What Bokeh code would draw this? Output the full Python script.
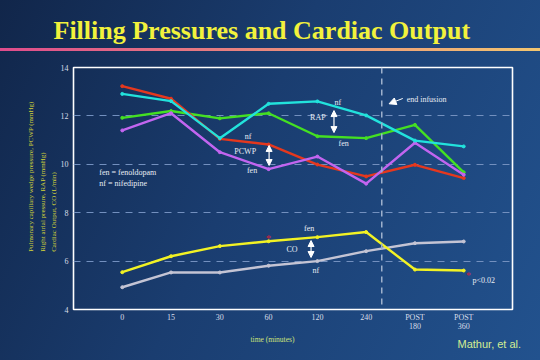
import math
from bokeh.plotting import figure
from bokeh.layouts import column, row
from bokeh.models import Range1d, FixedTicker, Label, Span, Arrow, NormalHead
from bokeh.embed import file_html
from bokeh.resources import INLINE
from bokeh.core.properties import value

# ---------------- data ----------------
categories = ["0", "15", "30", "60", "120", "240", "POST\n180", "POST\n360"]
x_pos = list(range(len(categories)))
pcwp_nf = [13.23, 12.71, 11.05, 10.82, 9.99, 9.50, 9.98, 9.43]     # red
pcwp_fen = [11.40, 12.11, 10.50, 9.80, 10.32, 9.20, 10.89, 9.57]   # purple
rap_nf = [12.91, 12.61, 11.08, 12.50, 12.60, 12.02, 10.98, 10.74]  # cyan
rap_fen = [11.92, 12.20, 11.90, 12.11, 11.16, 11.08, 11.63, 9.67]  # green
co_fen = [5.54, 6.20, 6.62, 6.82, 6.99, 7.20, 5.65, 5.61]          # yellow
co_nf = [4.92, 5.53, 5.53, 5.81, 6.00, 6.41, 6.74, 6.81]           # gray
y_ticks = [4, 6, 8, 10, 12, 14]
sig_index = [3]           # p<0.02 point on CO fen
END_INFUSION_X = 5.32

title_text = "Filling Pressures and Cardiac Output"
ylines = ["Pulmonary capillary wedge pressure, PCWP (mmHg)",
          "Right atrial pressure, RAP (mmHg)",
          "Cardiac Output, CO (L/min)"]
xlabel_text = "time (minutes)"
credit_text = "Mathur, et al."

SERIF = "Liberation Serif"

# ---------------- layout sizes ----------------
W, H = 540, 360
TOP_H = 57          # title strip
LEFT_W = 57         # y-label strip
BOT_H = 26          # bottom strip
MAIN_W = W - LEFT_W
MAIN_H = H - TOP_H - BOT_H


def blank(w, h):
    f = figure(width=w, height=h, x_range=Range1d(0, w), y_range=Range1d(0, h),
               output_backend="svg", toolbar_location=None, min_border=0,
               x_axis_type=None, y_axis_type=None)
    f.outline_line_color = None
    f.background_fill_color = None
    f.border_fill_color = None
    return f


# ---------------- main chart ----------------
p = figure(width=MAIN_W, height=MAIN_H, x_range=Range1d(-1, 8), y_range=Range1d(4, 14),
           output_backend="svg", toolbar_location=None,
           min_border_left=15, min_border_right=28, min_border_top=10, min_border_bottom=25)
p.border_fill_color = None
p.background_fill_color = None
p.outline_line_color = "white"
p.outline_line_width = 1.6

p.xaxis.ticker = FixedTicker(ticks=x_pos)
p.xaxis.major_label_overrides = {i: c for i, c in zip(x_pos, categories)}
p.yaxis.ticker = FixedTicker(ticks=y_ticks)
for ax in (p.xaxis, p.yaxis):
    ax.axis_line_color = None
    ax.major_tick_line_color = None
    ax.minor_tick_line_color = None
    ax.major_tick_out = 0
    ax.minor_tick_out = 0
    ax.axis_label_standoff = 0
    ax.major_label_text_color = "#d8dde8"
    ax.major_label_text_font = SERIF
    ax.major_label_text_font_size = "8px"
p.xaxis.major_label_text_line_height = 1.1
p.xaxis.major_label_standoff = 3
p.yaxis.major_label_standoff = 5

p.xgrid.grid_line_color = None
p.ygrid.grid_line_color = "#7390bf"
p.ygrid.grid_line_dash = "7 6"
p.ygrid.grid_line_width = 1

p.add_layout(Span(location=END_INFUSION_X, dimension="height", line_color="#9db0cc",
                  line_dash="6 5", line_width=1.5))

series = [
    (rap_fen, "#44e022"),
    (pcwp_nf, "#e5381e"),
    (pcwp_fen, "#c265f0"),
    (rap_nf, "#22e2dc"),
    (co_nf, "#c4c4d4"),
    (co_fen, "#f2f224"),
]
for ys, col in series:
    p.line(x_pos, ys, line_color=col, line_width=2.4)
    p.scatter(x_pos, ys, size=3, color=col)

p.text([x_pos[i] for i in sig_index], [co_fen[i] + 0.12 for i in sig_index], text=["*"] * len(sig_index),
       text_color="#d02040", text_font=value(SERIF), text_font_size="11px",
       text_align="center", text_baseline="middle")


def lab(fig, x, y, t, size="8px", color="#e8ecf4", align="left", baseline="middle", font=SERIF,
        angle=0.0, style="normal"):
    fig.add_layout(Label(x=x, y=y, text=t, text_font=font, text_font_size=size, text_color=color,
                         text_align=align, text_baseline=baseline, angle=angle, text_font_style=style))


lab(p, -0.47, 9.66, "fen = fenoldopam")
lab(p, -0.47, 9.21, "nf = nifedipine")
lab(p, 4.42, 12.55, "nf", align="center")
lab(p, 4.01, 11.93, "RAP", align="center")
lab(p, 4.54, 10.86, "fen", align="center")
lab(p, 2.58, 11.15, "nf", align="center")
lab(p, 2.52, 10.53, "PCWP", align="center")
lab(p, 2.66, 9.74, "fen", align="center")
lab(p, 5.83, 12.68, "end infusion")
lab(p, 3.83, 7.35, "fen", align="center")
lab(p, 3.48, 6.48, "CO", align="center")
lab(p, 3.97, 5.61, "nf", align="center")
lab(p, 7.18, 5.20, "p<0.02")
lab(p, 7.10, 5.40, "*", size="10px", color="#d02040", align="center")


def dbl(x, y0, y1):
    p.add_layout(Arrow(x_start=x, y_start=y0, x_end=x, y_end=y1, line_color="white", line_width=1.2,
                       start=NormalHead(size=6, fill_color="white", line_color="white"),
                       end=NormalHead(size=6, fill_color="white", line_color="white")))


dbl(4.34, 12.22, 11.31)
dbl(3.01, 10.78, 9.95)
dbl(3.87, 6.85, 6.15)
p.add_layout(Arrow(x_start=5.75, y_start=12.72, x_end=5.47, y_end=12.50, line_color="white", line_width=1,
                   end=NormalHead(size=7, fill_color="white", line_color="white")))

# ---------------- title strip ----------------
top = blank(W, TOP_H)
lab(top, 53, TOP_H - 30, title_text, size="26px", color="#f2f23c", baseline="alphabetic", style="bold")

# ---------------- y-label strip ----------------
left = blank(LEFT_W, MAIN_H)
for xx, t in zip([30, 42, 53], ylines):
    lab(left, xx, MAIN_H - (268 - TOP_H), t, size="7px", color="#d2d23a", angle=math.pi / 2)

# ---------------- bottom strip ----------------
bot = blank(W, BOT_H)
y0 = TOP_H + MAIN_H
lab(bot, 250, BOT_H - (338.5 - y0), xlabel_text, size="7.5px", color="#cfe47a")
lab(bot, 457, BOT_H - (343 - y0), credit_text, size="11px", color="#d4ee92", font="Liberation Sans")

layout = column(top, row(left, p), bot)

template = ("{% block preamble %}<style>html{height:100%;background:"
            "linear-gradient(to right,#de4c8c,#f3c670) 0 48px/100% 3px no-repeat,"
            "linear-gradient(115deg,#11264a 0%,#1a3d70 45%,#22528e 100%) no-repeat;}"
            "</style>{% endblock %}")
open("out.html", "w").write(file_html(layout, INLINE, template=template))
